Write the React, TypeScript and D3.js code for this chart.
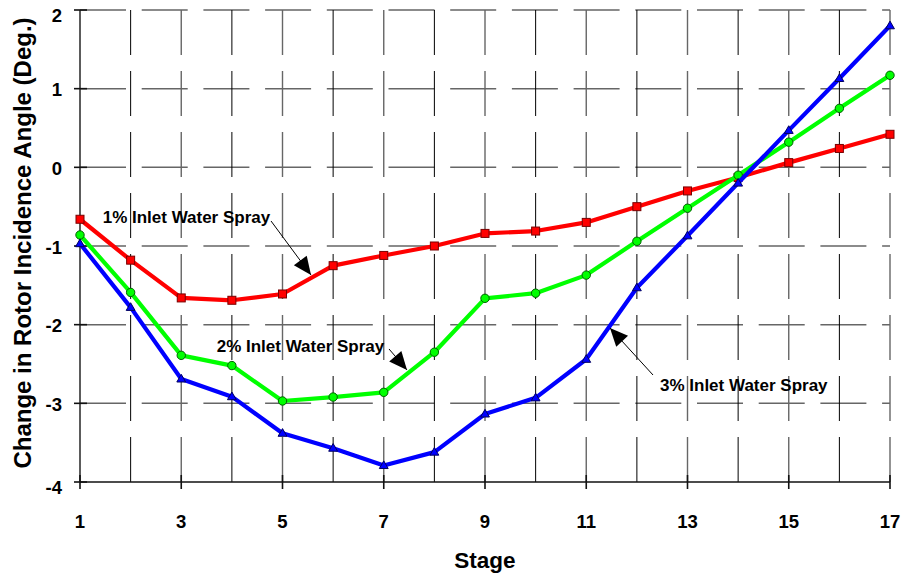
import React from "react";
import * as d3 from "d3";

const stages = [1, 2, 3, 4, 5, 6, 7, 8, 9, 10, 11, 12, 13, 14, 15, 16, 17];
const spray1 = [-0.66, -1.18, -1.66, -1.69, -1.61, -1.25, -1.12, -1.0, -0.84, -0.81, -0.7, -0.5, -0.3, -0.13, 0.06, 0.24, 0.42];
const spray2 = [-0.86, -1.59, -2.39, -2.52, -2.97, -2.92, -2.86, -2.35, -1.665, -1.6, -1.37, -0.94, -0.52, -0.1, 0.32, 0.75, 1.17];
const spray3 = [-0.97, -1.78, -2.69, -2.915, -3.38, -3.57, -3.79, -3.62, -3.135, -2.93, -2.44, -1.53, -0.87, -0.2, 0.47, 1.13, 1.8];
const yTicks = [2, 1, 0, -1, -2, -3, -4];
const xTickLabels = [1, 3, 5, 7, 9, 11, 13, 15, 17];
const annotationLabels = ["1% Inlet Water Spray", "2% Inlet Water Spray", "3% Inlet Water Spray"];
// text anchor (stage, value), arrow start, arrow tip
const annotationText = [[1.448, -0.708], [3.7, -2.343], [12.457, -2.839]];
const annotationFrom = [[4.773, -0.682], [7.104, -2.309], [12.319, -2.64]];
const annotationTip = [[5.563, -1.369], [7.459, -2.576], [11.469, -2.042]];

const W = 905;
const H = 580;
const left = 80, right = 890, top = 10, bottom = 482;
const font = "Arial, 'Liberation Sans', Helvetica, sans-serif";

export default function App() {
  const x = d3.scaleLinear().domain([1, 17]).range([left, right]);
  const y = d3.scaleLinear().domain([-4, 2]).range([bottom, top]);
  const line = d3.line<number>().x((_, i) => x(stages[i])).y((d) => y(d));

  const series = [
    { data: spray1, color: "#ff0000", stroke: "#7a0000", marker: "square" },
    { data: spray2, color: "#00ff00", stroke: "#006000", marker: "circle" },
    { data: spray3, color: "#0000ff", stroke: "#000060", marker: "triangle" },
  ];
  const tri = d3.symbol().type(d3.symbolTriangle).size(34)() as string;

  const arrowHead = (fx: number, fy: number, tx: number, ty: number) => {
    const dx = tx - fx, dy = ty - fy;
    const len = Math.sqrt(dx * dx + dy * dy);
    const ux = dx / len, uy = dy / len;
    const hl = 18, hw = 8;
    const bx = tx - ux * hl, by = ty - uy * hl;
    return `${tx},${ty} ${bx - uy * hw},${by + ux * hw} ${bx + uy * hw},${by - ux * hw}`;
  };

  return (
    <svg width={W} height={H} style={{ position: "fixed", left: 0, top: 0, background: "#fff" }} fontFamily={font}>
      <rect width={W} height={H} fill="#fff" />
      {/* horizontal grid */}
      {yTicks.filter((t) => t !== -4).map((t) => (
        <line key={"h" + t} x1={left} x2={right} y1={y(t)} y2={y(t)} stroke="#666" strokeWidth={1.5} strokeDasharray="46 15.7" />
      ))}
      {/* vertical grid */}
      {stages.filter((s) => s !== 1).map((s) => (
        <line key={"v" + s} x1={x(s)} x2={x(s)} y1={top} y2={bottom}
          stroke={s % 2 === 1 ? "#666" : "#000"} strokeWidth={s % 2 === 1 ? 1.4 : 1} strokeDasharray="45 16" />
      ))}
      {/* axes */}
      <line x1={left} x2={left} y1={top} y2={bottom} stroke="#333" strokeWidth={1.6} />
      <line x1={left} x2={right} y1={bottom} y2={bottom} stroke="#111" strokeWidth={1.6} />
      {yTicks.map((t) => (
        <line key={"yt" + t} x1={left - 6} x2={left + 7} y1={y(t)} y2={y(t)} stroke="#111" strokeWidth={1.6} />
      ))}
      {xTickLabels.map((s) => (
        <line key={"xt" + s} x1={x(s)} x2={x(s)} y1={bottom - 7} y2={bottom + 7} stroke="#111" strokeWidth={1.6} />
      ))}
      {/* tick labels */}
      {yTicks.map((t, i) => (
        <text key={"yl" + t} x={62} y={y(t) + (i === 0 || i === yTicks.length - 1 ? 5 : 1)} dy="0.36em" textAnchor="end" fontSize={18.5} fontWeight="bold" fill="#000">{t}</text>
      ))}
      {xTickLabels.map((s) => (
        <text key={"xl" + s} x={x(s)} y={528} textAnchor="middle" fontSize={18.5} fontWeight="bold" fill="#000">{s}</text>
      ))}
      {/* titles */}
      <text x={485} y={568} textAnchor="middle" fontSize={22.5} fontWeight="bold">Stage</text>
      <text transform="translate(31,243) rotate(-90)" textAnchor="middle" fontSize={24} fontWeight="bold">Change in Rotor Incidence Angle (Deg.)</text>
      {/* series */}
      {series.map((s, k) => (
        <g key={"s" + k}>
          <path d={line(s.data) as string} fill="none" stroke={s.color} strokeWidth={4.2} strokeLinejoin="round" />
          {s.data.map((v, i) => {
            const cx = x(stages[i]), cy = y(v);
            if (s.marker === "square")
              return <rect key={i} x={cx - 4} y={cy - 4} width={8} height={8} fill={s.color} stroke={s.stroke} strokeWidth={1} />;
            if (s.marker === "circle")
              return <circle key={i} cx={cx} cy={cy} r={4.2} fill={s.color} stroke={s.stroke} strokeWidth={1} />;
            return <path key={i} d={tri} transform={`translate(${cx},${cy + 0.5})`} fill={s.color} stroke={s.stroke} strokeWidth={1} />;
          })}
        </g>
      ))}
      {/* annotations */}
      {annotationLabels.map((lab, i) => {
        const fx = x(annotationFrom[i][0]), fy = y(annotationFrom[i][1]);
        const tx = x(annotationTip[i][0]), ty = y(annotationTip[i][1]);
        return (
          <g key={"a" + i}>
            <text x={x(annotationText[i][0])} y={y(annotationText[i][1])} fontSize={17} fontWeight="bold" fill="#000">{lab}</text>
            <line x1={fx} y1={fy} x2={tx} y2={ty} stroke="#000" strokeWidth={1} />
            <polygon points={arrowHead(fx, fy, tx, ty)} fill="#000" />
          </g>
        );
      })}
    </svg>
  );
}
